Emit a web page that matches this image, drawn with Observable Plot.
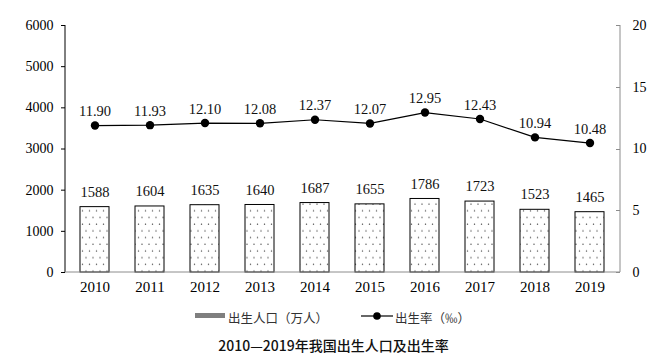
<!DOCTYPE html>
<html>
<head>
<meta charset="utf-8">
<script src="https://cdn.jsdelivr.net/npm/d3@7"></script>
<script src="https://cdn.jsdelivr.net/npm/@observablehq/plot@0.6"></script>
<style>
  body { margin: 0; background: #fff; }
  #wrap { position: relative; width: 667px; height: 358px; overflow: hidden; }
  #chart svg { display: block; }
  .legend { position: absolute; top: 307px; left: 0; width: 667px; height: 20px;
            font-family: "Noto Sans CJK SC", sans-serif; font-size: 12.5px; color: #333; }
  .legend span { position: absolute; top: 1px; white-space: nowrap; }
  .caption { position: absolute; top: 335px; left: 0; width: 667px; text-align: center;
             font-family: "Noto Sans CJK SC", sans-serif; font-size: 14px; font-weight: 500; color: #111; }
</style>
</head>
<body>
<div id="wrap">
  <div id="chart"></div>
  <div class="legend">
    <svg style="position:absolute;left:195px;top:6px" width="30" height="6"><rect x="0" y="0" width="30" height="5" fill="#7f7f7f"/></svg>
    <span style="left:228px">出生人口（万人）</span>
    <svg style="position:absolute;left:361px;top:3px" width="32" height="12"><line x1="0" y1="6" x2="32" y2="6" stroke="#000" stroke-width="1.2"/><circle cx="16" cy="6" r="3.8" fill="#000"/></svg>
    <span style="left:395px">出生率（‰）</span>
  </div>
  <div class="caption">2010—2019年我国出生人口及出生率</div>
</div>
<script>
const years = ["2010","2011","2012","2013","2014","2015","2016","2017","2018","2019"];
const births = [1588, 1604, 1635, 1640, 1687, 1655, 1786, 1723, 1523, 1465];
const rates = [11.90, 11.93, 12.10, 12.08, 12.37, 12.07, 12.95, 12.43, 10.94, 10.48];
const leftTicks = [0, 1000, 2000, 3000, 4000, 5000, 6000];
const rightTicks = [0, 5, 10, 15, 20];
const ratio = 6000 / 20;

const data = years.map((y, i) => ({year: y, births: births[i], rate: rates[i]}));

function extras(index, scales, values, dimensions) {
  const {width, height, marginLeft, marginRight, marginTop, marginBottom} = dimensions;
  const g = d3.create("svg:g");
  const defs = g.append("defs");
  const p = defs.append("pattern").attr("id", "dots").attr("patternUnits", "userSpaceOnUse")
    .attr("width", 14).attr("height", 13.4);
  p.append("rect").attr("width", 14).attr("height", 13.4).attr("fill", "#fff");
  for (const [cx, cy] of [[2, 3], [9, 3], [5.5, 9.7], [12.5, 9.7]]) {
    p.append("circle").attr("cx", cx).attr("cy", cy).attr("r", 0.7).attr("fill", "#333");
  }
  const x0 = marginLeft, x1 = width - marginRight;
  const yTop = marginTop, yBot = height - marginBottom;
  g.append("line").attr("x1", x0).attr("x2", x0).attr("y1", yTop).attr("y2", yBot)
    .attr("stroke", "#000").attr("stroke-width", 1);
  g.append("line").attr("x1", x1).attr("x2", x1).attr("y1", yTop).attr("y2", yBot)
    .attr("stroke", "#8c8c8c").attr("stroke-width", 1);
  for (const t of rightTicks) {
    const yy = Math.round(scales.y(t * ratio)) + 0.5;
    g.append("line").attr("x1", x1 - 4).attr("x2", x1).attr("y1", yy).attr("y2", yy)
      .attr("stroke", "#8c8c8c");
  }
  g.append("line").attr("x1", x0).attr("x2", x1).attr("y1", yBot).attr("y2", yBot)
    .attr("stroke", "#8c8c8c").attr("stroke-width", 1);
  return g.node();
}

const chart = Plot.plot({
  width: 667,
  height: 300,
  marginLeft: 65,
  marginRight: 47,
  marginTop: 25,
  marginBottom: 28,
  style: {fontFamily: "'Liberation Serif', serif", fontSize: "14px", color: "#000", background: "#fff"},
  x: {domain: years, paddingInner: 0.47, paddingOuter: 0.235, label: null},
  y: {domain: [0, 6000], label: null},
  marks: [
    Plot.barY(data, {x: "year", y: "births", fill: "url(#dots)", stroke: "#000", strokeWidth: 1}),
    Plot.text(data, {x: "year", y: "births", text: d => String(d.births), dy: -15,
      fontSize: 14.5, fill: "#111"}),
    Plot.line(data, {x: "year", y: d => d.rate * ratio, stroke: "#000", strokeWidth: 1.2}),
    Plot.dot(data, {x: "year", y: d => d.rate * ratio, r: 4.2, fill: "#000"}),
    Plot.text(data, {x: "year", y: d => d.rate * ratio, text: d => d.rate.toFixed(2), dy: -14,
      fontSize: 14.5, fill: "#111"}),
    Plot.axisY({anchor: "left", ticks: leftTicks, tickFormat: d => String(d), tickSize: 4, tickPadding: 8,
      label: null, fontSize: 14, stroke: "#000"}),
    Plot.axisY({anchor: "right", ticks: rightTicks.map(t => t * ratio), tickFormat: d => String(d / ratio),
      tickSize: 0, tickPadding: 12, label: null, fontSize: 14}),
    Plot.axisX({anchor: "bottom", tickSize: 0, tickPadding: 9, label: null, fontSize: 15}),
    extras
  ]
});
document.getElementById("chart").append(chart);
</script>
</body>
</html>
